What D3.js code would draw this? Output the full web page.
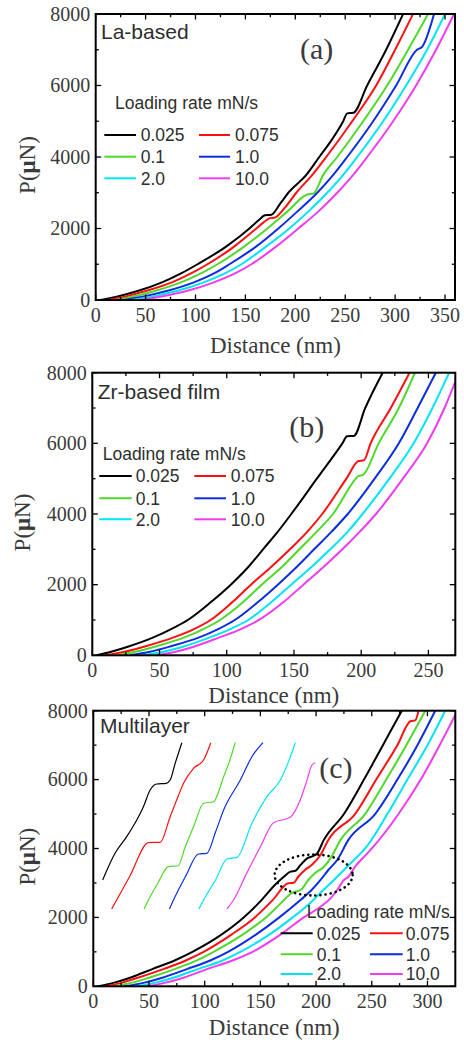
<!DOCTYPE html>
<html><head><meta charset="utf-8">
<script src="https://cdn.jsdelivr.net/npm/d3@7"></script>
<style>body{margin:0;background:#fff}svg{display:block}</style>
</head><body><svg id="c" width="464" height="1040"></svg>
<script>
// ---------------- DATA ----------------
const rates = ["0.025", "0.075", "0.1", "1.0", "2.0", "10.0"];
const legendTitle = "Loading rate mN/s";
const yTicks = [0, 2000, 4000, 6000, 8000];
const yMinor = [1000, 3000, 5000, 7000];
const xTicksA = [0, 50, 100, 150, 200, 250, 300, 350];
const xTicksB = [0, 50, 100, 150, 200, 250];
const xTicksC = [0, 50, 100, 150, 200, 250, 300];
const panelNames = ["La-based", "Zr-based film", "Multilayer"];
const panelTags = ["(a)", "(b)", "(c)"];

// each point: [depth (nm), load (µN)]
// Panel (a) La-based
const aR0025 = [[5,0],[22,100],[42,250],[67,500],[86,750],[102,1000],[131,1500],[154,2000],[164,2250],[169.5,2370],[176,2385],[185,2700],[193,3000],[211,3500],[224,4000],[237,4500],[248,5000],[252,5220],[258,5235],[272,6000],[291,7000],[308,8000]];
const aR0075 = [[12,0],[30,100],[50,250],[77,500],[96,750],[112,1000],[139,1500],[161,2000],[172,2250],[175,2290],[179,2300],[190,2600],[201,3000],[217,3500],[231,4000],[257,5000],[281,6000],[300,7000],[318,8000]];
const aR01 = [[20,0],[38,100],[59,250],[86,500],[106,750],[122,1000],[149,1500],[172,2000],[193,2500],[212,2950],[218,2975],[228,3500],[242,4000],[268,5000],[292,6000],[313,7000],[333,8000]];
const aR10 = [[28,0],[48,100],[71,250],[99,500],[119,750],[134,1000],[161,1500],[183,2000],[203,2500],[222,3000],[238,3500],[252,4000],[278,5000],[301,6000],[322,7000],[327,7080],[339,8000]];
const aR20 = [[36,0],[57,100],[81,250],[109,500],[130,750],[146,1000],[171,1500],[194,2000],[214,2500],[232,3000],[248,3500],[262,4000],[288,5000],[311,6000],[332,7000],[350,8000]];
const aR100 = [[44,0],[66,100],[91,250],[119,500],[140,750],[156,1000],[181,1500],[203,2000],[224,2500],[242,3000],[258,3500],[272,4000],[298,5000],[321,6000],[341,7000],[359,8000]];

// Panel (b) Zr-based film
const bR0025 = [[3,0],[14,100],[27,250],[45,500],[59,750],[71,1000],[88,1500],[103,2000],[116,2500],[127,3000],[138,3500],[148,4000],[167,5000],[186,6000],[189.5,6200],[194.5,6210],[203,7000],[216,8000]];
const bR0075 = [[10,0],[24,100],[39,250],[60,500],[76,750],[88,1000],[104,1500],[118,2000],[133,2500],[147,3000],[160,3500],[171,4000],[189,5000],[198,5500],[202,5520],[207,6000],[222,7000],[236,8000]];
const bR01 = [[18,0],[32,100],[47,250],[68,500],[83,750],[95,1000],[112,1500],[126,2000],[141,2500],[154,3000],[167,3500],[179,4000],[196,5000],[198,5080],[201,5100],[213,6000],[228,7000],[240,8000]];
const bR10 = [[28,0],[43,100],[58,250],[79,500],[94,750],[106,1000],[123,1500],[138,2000],[152,2500],[165,3000],[178,3500],[190,4000],[210,5000],[228,6000],[242,7000],[255.5,8000]];
const bR20 = [[38,0],[53,100],[68,250],[87,500],[103,750],[116,1000],[133,1500],[148,2000],[163,2500],[177,3000],[190,3500],[201,4000],[221,5000],[239,6000],[253,7000],[265.5,8000]];
const bR100 = [[48,0],[62,100],[76,250],[94,500],[111,750],[124,1000],[142,1500],[157,2000],[172,2500],[186,3000],[199,3500],[211,4000],[231,5000],[249,6000],[262,7000],[270,7746]];

// Panel (c) Multilayer – main curves
const cR0025 = [[4,0],[18,100],[33,250],[53,500],[73,750],[89,1000],[115,1500],[135,2000],[151,2500],[163,2940],[171,3180],[177,3330],[181.5,3356],[186,3520],[192,3715],[196,3763],[201,3860],[207,4250],[225,5000],[243,6000],[260,7000],[277,8000]];
const cR0075 = [[10,0],[25,100],[40,250],[63,500],[83,750],[99,1000],[124,1500],[145,2000],[161,2500],[175,2990],[180,3007],[184,3180],[190,3376],[196,3521],[204,3811],[211,4250],[235,5000],[254,6000],[273,7000],[285,7700],[289,7720],[292,8000]];
const cR01 = [[18,0],[34,100],[50,250],[73,500],[93,750],[108,1000],[134,1500],[155,2000],[168,2400],[178,2700],[187,2816],[193,3086],[199,3280],[207,3472],[213,3715],[222,4250],[244,5000],[263,6000],[281,7000],[298,8000]];
const cR10 = [[28,0],[45,100],[62,250],[84,500],[105,750],[121,1000],[146,1500],[167,2000],[186,2505],[196,2795],[204,3086],[211,3376],[219,3666],[229,4250],[253,5000],[273,6000],[291,7000],[307,8000]];
const cR20 = [[38,0],[55,100],[72,250],[94,500],[116,750],[132,1000],[158,1500],[179,2000],[196,2456],[205,2746],[213,2990],[222,3280],[231,3570],[240,3860],[244,4000],[264,5000],[282,6000],[300,7000],[316,8000]];
const cR100 = [[48,0],[64,100],[81,250],[102,500],[125,750],[143,1000],[168,1500],[189,2000],[204,2311],[213,2554],[219,2795],[225,3086],[229,3181],[235,3472],[246,3860],[250,4000],[274,5000],[294,6000],[311,7000],[325,7875]];

// Panel (c) Multilayer – shifted inset segments
const iR0025 = [[8.4,3086],[19.5,3860],[30,4343],[39,4827],[45,5214],[51,5698],[57,5872],[65.4,5892],[69,5988],[73.5,6473],[79.5,7071]];
const iR0075 = [[16.5,2244],[33,3210],[49.5,4170],[60,4180],[69,4924],[76,5500],[81,5893],[90,6328],[99,6570],[105.5,7071]];
const iR01 = [[45.6,2244],[49.5,2505],[58,3000],[67.4,3472],[76.4,3500],[82,4000],[90,4632],[99,5312],[108,5358],[117,6084],[123,6600],[127.4,7071]];
const iR10 = [[68.4,2244],[72,2505],[83,3200],[94.4,3840],[101.9,3860],[110,4500],[117,5118],[132,5988],[142.4,6665],[152.3,7071]];
const iR20 = [[94.8,2244],[99,2505],[110,3100],[120,3695],[129,3744],[142.4,4731],[155.9,5504],[168,5988],[175,6500],[181.4,7071]];
const iR100 = [[120,2244],[125.9,2505],[138,3300],[150,4053],[161.8,4750],[176.7,4905],[185.8,5408],[192,6000],[196.3,6424],[199.3,6490]];

// dotted ellipse annotation (data units): center depth, center load, half-width nm, half-height µN
const ellipseC = [197.8, 3231, 35, 595];

// ---------------- STYLE / LAYOUT ----------------
const colors = ["#000000", "#ff1010", "#4fd92b", "#0a2ee0", "#00e4f4", "#f03cf0"];
const serif = "'Liberation Serif','Times New Roman',serif";
const sans = "'Liberation Sans',Arial,sans-serif";
const txtSerif = "#3a3a3a", txtSans = "#2e2e2e";
const svg = d3.select("#c");

const panels = [
  {box:[95.7,455,14,300], xMax:360, xTicks:xTicksA, series:[aR0025,aR0075,aR01,aR10,aR20,aR100],
   name:[101,38.5], tag:[300,58.5], xLab:352.5, yLab:[35,165],
   leg:{title:[115,109.3], rows:[135,156.7,178.3], c1:[104.3,136,140.7], c2:[199,230,235]}},
  {box:[92.3,455.3,372.7,655.3], xMax:270, xTicks:xTicksB, series:[bR0025,bR0075,bR01,bR10,bR20,bR100],
   name:[97.7,399.3], tag:[289.3,436.5], xLab:703.3, yLab:[30,522.5],
   leg:{title:[102.7,460], rows:[476,498.3,519.3], c1:[99.3,131.7,135.7], c2:[194.3,226,230.7]}},
  {box:[93.3,455.3,710.7,986.3], xMax:325, xTicks:xTicksC, series:[cR0025,cR0075,cR01,cR10,cR20,cR100],
   insets:[iR0025,iR0075,iR01,iR10,iR20,iR100],
   name:[100,733.3], tag:[319.3,778.3], xLab:1035, yLab:[35,856.7], ellipse:ellipseC,
   leg:{title:[306.7,918.3], rows:[933.3,954.3,974], c1:[280.7,312.7,316.7], c2:[370,402.7,405.7]}}
];

panels.forEach((p, pi) => {
  const [L, R, T, B] = p.box;
  const x = d3.scaleLinear().domain([0, p.xMax]).range([L, R]);
  const y = d3.scaleLinear().domain([0, 8000]).range([B, T]);
  const g = svg.append("g");
  const clipId = "clip" + pi;
  svg.append("clipPath").attr("id", clipId).append("rect")
    .attr("x", L).attr("y", T).attr("width", R - L).attr("height", B - T);

  const line = d3.line().x(d => x(d[0])).y(d => y(d[1])).curve(d3.curveMonotoneX);
  const cg = g.append("g").attr("clip-path", `url(#${clipId})`);

  if (p.insets) {
    p.insets.forEach((s, i) => {
      cg.append("path").attr("d", line(s)).attr("fill", "none")
        .attr("stroke", colors[i]).attr("stroke-width", 1.2).attr("stroke-linejoin", "round");
    });
  }
  p.series.forEach((s, i) => {
    cg.append("path").attr("d", line(s)).attr("fill", "none")
      .attr("stroke", colors[i]).attr("stroke-width", 2).attr("stroke-linejoin", "round");
  });

  if (p.ellipse) {
    const [ex, ey, erx, ery] = p.ellipse;
    g.append("ellipse").attr("cx", x(ex)).attr("cy", y(ey))
      .attr("rx", x(erx) - x(0)).attr("ry", y(0) - y(ery))
      .attr("fill", "none").attr("stroke", "#000").attr("stroke-width", 2.6)
      .attr("stroke-linecap", "round").attr("stroke-dasharray", "0.1 5");
  }

  // frame
  g.append("rect").attr("x", L).attr("y", T).attr("width", R - L).attr("height", B - T)
    .attr("fill", "none").attr("stroke", "#000").attr("stroke-width", 2);

  // ticks (inward, all sides)
  const tk = g.append("g").attr("stroke", "#000").attr("stroke-width", 1.3);
  const xMinor = d3.range(25, p.xMax, 50);
  p.xTicks.forEach(v => {
    tk.append("line").attr("x1", x(v)).attr("x2", x(v)).attr("y1", B).attr("y2", B - 5.5);
    tk.append("line").attr("x1", x(v)).attr("x2", x(v)).attr("y1", T).attr("y2", T + 5.5);
  });
  xMinor.forEach(v => {
    tk.append("line").attr("x1", x(v)).attr("x2", x(v)).attr("y1", B).attr("y2", B - 3.2);
    tk.append("line").attr("x1", x(v)).attr("x2", x(v)).attr("y1", T).attr("y2", T + 3.2);
  });
  yTicks.forEach(v => {
    tk.append("line").attr("y1", y(v)).attr("y2", y(v)).attr("x1", L).attr("x2", L + 5.5);
    tk.append("line").attr("y1", y(v)).attr("y2", y(v)).attr("x1", R).attr("x2", R - 5.5);
  });
  yMinor.forEach(v => {
    tk.append("line").attr("y1", y(v)).attr("y2", y(v)).attr("x1", L).attr("x2", L + 3.2);
    tk.append("line").attr("y1", y(v)).attr("y2", y(v)).attr("x1", R).attr("x2", R - 3.2);
  });

  // tick labels
  p.xTicks.forEach(v => {
    g.append("text").attr("x", x(v)).attr("y", B + 21.5).attr("text-anchor", "middle")
      .attr("font-family", serif).attr("font-size", 20).attr("fill", txtSerif).text(v);
  });
  yTicks.forEach(v => {
    g.append("text").attr("x", L - 5.5).attr("y", y(v)).attr("dy", "0.34em").attr("text-anchor", "end")
      .attr("font-family", serif).attr("font-size", 20).attr("fill", txtSerif).text(v);
  });

  // axis titles
  g.append("text").attr("x", (L + R) / 2).attr("y", p.xLab).attr("text-anchor", "middle")
    .attr("font-family", serif).attr("font-size", 23).attr("fill", txtSerif).text("Distance (nm)");
  const yl = g.append("text").attr("transform", `translate(${p.yLab[0]},${p.yLab[1]}) rotate(-90)`)
    .attr("text-anchor", "middle").attr("font-family", serif).attr("font-size", 23).attr("fill", txtSerif);
  yl.append("tspan").text("P(");
  yl.append("tspan").attr("font-weight", "bold").text("\u03BC");
  yl.append("tspan").text("N)");

  // panel name & tag
  g.append("text").attr("x", p.name[0]).attr("y", p.name[1]).attr("font-family", sans)
    .attr("font-size", 21).attr("fill", txtSans).text(panelNames[pi]);
  g.append("text").attr("x", p.tag[0]).attr("y", p.tag[1]).attr("font-family", serif)
    .attr("font-size", 30).attr("fill", txtSerif).text(panelTags[pi]);

  // legend
  const lg = p.leg;
  g.append("text").attr("x", lg.title[0]).attr("y", lg.title[1]).attr("font-family", sans)
    .attr("font-size", 17.5).attr("fill", txtSans).text(legendTitle);
  rates.forEach((r, i) => {
    const col = i % 2 === 0 ? lg.c1 : lg.c2;
    const yy = lg.rows[Math.floor(i / 2)];
    g.append("line").attr("x1", col[0]).attr("x2", col[1]).attr("y1", yy).attr("y2", yy)
      .attr("stroke", colors[i]).attr("stroke-width", 2);
    g.append("text").attr("x", col[2]).attr("y", yy).attr("dy", "0.36em").attr("font-family", sans)
      .attr("font-size", 17.5).attr("fill", txtSans).text(r);
  });
});
</script></body></html>
